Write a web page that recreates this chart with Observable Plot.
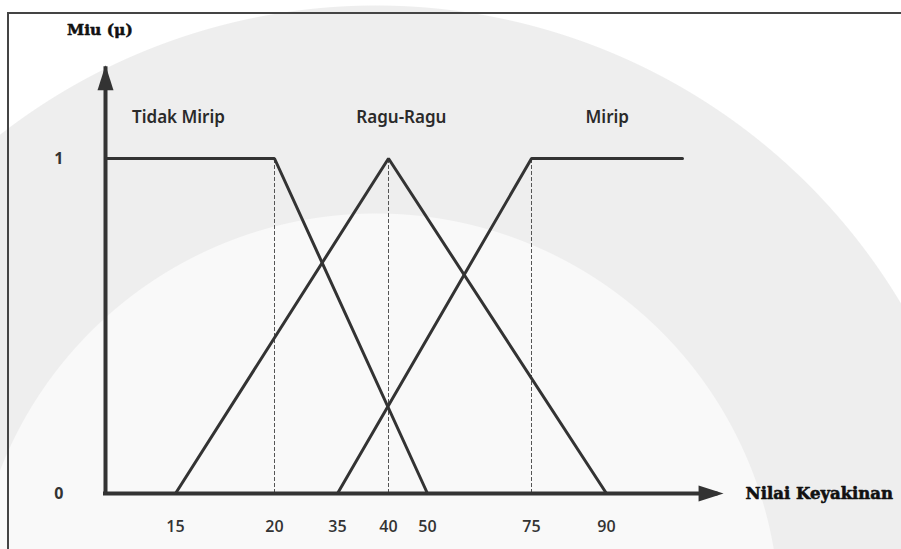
<!DOCTYPE html>
<html><head><meta charset="utf-8">
<script src="https://cdn.jsdelivr.net/npm/d3@7"></script>
<script src="https://cdn.jsdelivr.net/npm/@observablehq/plot@0.6"></script>
<style>
html,body{margin:0;padding:0;background:#fff;}
#wrap{position:relative;width:901px;height:549px;overflow:hidden;
background:
 radial-gradient(circle 404px at 376px 617px, #f9f9f9 403px, rgba(255,255,255,0) 404px),
 radial-gradient(circle 612px at 376px 617px, #eeeeee 611px, rgba(255,255,255,0) 612px),
 #ffffff;}
#frame{position:absolute;left:7px;top:12px;right:-10px;bottom:-10px;border-left:2px solid #444;border-top:2px solid #444;pointer-events:none;}
#chart{position:absolute;left:0;top:0;}
</style></head>
<body>
<div id="wrap"><div id="chart"></div><div id="frame"></div></div>
<script>
// ---- data ----
const memberNames = ["Tidak Mirip", "Ragu-Ragu", "Mirip"];
const tidakMiripX = [0, 20, 50];
const tidakMiripY = [1, 1, 0];
const raguRaguX = [15, 40, 90];
const raguRaguY = [0, 1, 0];
const miripX = [35, 75, 100];
const miripY = [0, 1, 1];
const xTicks = [15, 20, 35, 40, 50, 75, 90];
const yTicks = [0, 1];
const peakGuides = [20, 40, 75];
const xTitle = "Nilai Keyakinan";
const yTitle = "Miu (\u03bc)";

// ---- layout (non-data) ----
const xStops = [0, 15, 20, 35, 40, 50, 75, 90, 100];
const xPixels = [105, 175, 274, 337, 388, 427, 531, 606, 682];
const labelAnchorX = [15.15, 43.3, 90.1];
const labelAnchorY = 1.122;
const xTip = 105.4, yTip = 1.278;

const series = [
  {name: memberNames[0], xs: tidakMiripX, ys: tidakMiripY},
  {name: memberNames[1], xs: raguRaguX, ys: raguRaguY},
  {name: memberNames[2], xs: miripX, ys: miripY}
];
const lineData = series.flatMap(s => s.xs.map((x, i) => ({name: s.name, x, y: s.ys[i]})));
const labelData = memberNames.map((name, i) => ({name, x: labelAnchorX[i], y: labelAnchorY}));

const arrowHead = {
  draw(ctx) { ctx.moveTo(0, 0); ctx.lineTo(-8, 25); ctx.lineTo(8, 25); ctx.closePath(); }
};
const ink = "#333";

const chart = Plot.plot({
  width: 901,
  height: 549,
  marginLeft: 105,
  marginRight: 219,
  marginTop: 158,
  marginBottom: 56,
  style: {background: "transparent", fontFamily: "'Open Sans', sans-serif", overflow: "visible"},
  x: {type: "linear", domain: xStops, range: xPixels},
  y: {type: "linear", domain: [0, 1], range: [493, 158]},
  marks: [
    Plot.ruleX(peakGuides, {y1: 0, y2: 1, stroke: "#555", strokeWidth: 1, strokeDasharray: "4,2"}),
    Plot.ruleY([0], {x1: 0, x2: xTip - 1, stroke: ink, strokeWidth: 4, strokeLinecap: "square"}),
    Plot.ruleX([0], {y1: 0, y2: yTip - 0.01, stroke: ink, strokeWidth: 4, strokeLinecap: "square"}),
    Plot.dot([{x: 0, y: yTip, r: 0}, {x: xTip, y: 0, r: 90}], {x: "x", y: "y", rotate: "r", symbol: arrowHead, fill: ink, stroke: null}),
    Plot.line(lineData, {x: "x", y: "y", z: "name", stroke: ink, strokeWidth: 3, strokeLinejoin: "miter"}),
    Plot.axisX({ticks: xTicks, tickFormat: "d", tickSize: 0, tickPadding: 27, label: null, fontSize: 16, fontWeight: 600, fill: "#333"}),
    Plot.axisY({ticks: yTicks, tickFormat: "d", tickSize: 0, tickPadding: 42, label: null, fontSize: 16, fontWeight: 700, fill: "#333"}),
    Plot.text(labelData, {x: "x", y: "y", text: "name", fontSize: 17, fontWeight: 600, fill: "#2a2a2a", fontFamily: "'Noto Sans', sans-serif"}),
    Plot.text([xTitle], {x: 108.3, y: 0, text: d => d, textAnchor: "start", fontSize: 16.5, fontWeight: 900, fill: "#111", stroke: "#111", strokeWidth: 0.6, fontFamily: "'DejaVu Serif', serif"}),
    Plot.text([yTitle], {x: -1.2, y: 1.382, text: d => d, fontSize: 15.5, fontWeight: 900, fill: "#111", stroke: "#111", strokeWidth: 0.5, fontFamily: "'DejaVu Serif', serif"})
  ]
});
document.getElementById("chart").appendChild(chart);
</script>
</body></html>
